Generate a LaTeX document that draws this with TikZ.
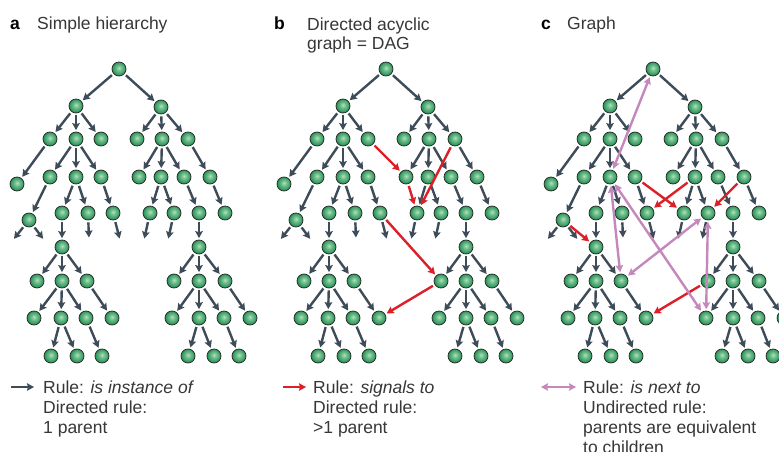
\documentclass[tikz,border=0pt]{standalone}
\usepackage{fontspec}
\setmainfont{Liberation Sans}
\usepackage{tikz}
\usetikzlibrary{arrows.meta}
\definecolor{slate}{RGB}{61,76,88}
\definecolor{signalred}{RGB}{220,32,40}
\definecolor{lilac}{RGB}{196,136,188}
\definecolor{textgrey}{RGB}{55,55,55}
\definecolor{ballhi}{RGB}{178,226,192}
\definecolor{ballmid}{RGB}{40,148,86}
\definecolor{balldark}{RGB}{10,92,48}
\pgfdeclareradialshading{greenball}{\pgfpoint{0bp}{4bp}}{color(0bp)=(ballhi); color(9bp)=(ballhi!55!ballmid); color(24bp)=(ballmid); color(40bp)=(balldark); color(50bp)=(balldark)}

\tikzset{
  >={Stealth[length=7pt,width=7.5pt,inset=1pt]},
  ball/.style={circle, minimum size=14pt, inner sep=0pt, draw=black!85, line width=0.7pt, shading=greenball},
  link/.style={line width=2.4pt, shorten <=2pt, shorten >=1.5pt},
  isa/.style={link, slate, ->},
  signal/.style={link, signalred, ->},
  nextto/.style={link, lilac, <->, shorten <=1.5pt},
  keyarrow/.style={shorten <=0pt, shorten >=0pt},
  % multi-line texts sit on the baseline of their last line
  title/.style={anchor=base west, inner sep=0pt, textgrey, align=left, font=\fontsize{17.5}{20}\selectfont},
  tag/.style={anchor=base west, inner sep=0pt, font=\fontsize{17.5}{20}\selectfont\bfseries},
}

% one hierarchy of balls with its instance-of links
\newcommand\hierarchy{%
  \foreach \n/\x/\y in {l0/119/69,
      l1a/76/106, l1b/161/107,
      l2a/50/139, l2b/76/139, l2c/101/139, l2d/137/139, l2e/162/139, l2f/188/139,
      l3a/17/184, l3b/50/177, l3c/76/177, l3d/101/177, l3e/139/177, l3f/161/177, l3g/184/177, l3h/210/177,
      l4a/29/220, l4b/62/213, l4c/88/213, l4d/113/213, l4e/150/213, l4f/174/213, l4g/199/213, l4h/225/213,
      l5a/62/247, l5b/199/247,
      l6a/37/281, l6b/62/281, l6c/87/281, l6d/174/281, l6e/199/281, l6f/225/281,
      l7a/34/318, l7b/61/318, l7c/86/318, l7d/112/318, l7e/172/318, l7f/199/318, l7g/224/318, l7h/250/318,
      l8a/51/356, l8b/77/356, l8c/102/356, l8d/188/356, l8e/214/356, l8f/239/356}
    \node[ball] (\n) at (\x,\y) {};
  % loose ends
  \foreach \n/\x/\y in {e1/13/240, e2/44/240, e3/89/239, e4/120/240, e5/144/240, e6/168/240}
    \coordinate (\n) at (\x,\y);
  \foreach \p/\c in {l0/l1a, l0/l1b,
      l1a/l2a, l1a/l2b, l1a/l2c, l1b/l2d, l1b/l2e, l1b/l2f,
      l2a/l3a, l2b/l3b, l2b/l3c, l2b/l3d, l2e/l3e, l2e/l3f, l2e/l3g, l2f/l3h,
      l3b/l4a, l3c/l4b, l3c/l4c, l3d/l4d, l3f/l4e, l3f/l4f, l3g/l4g, l3h/l4h,
      l4a/e1, l4a/e2, l4c/e3, l4d/e4, l4e/e5, l4f/e6,
      l4b/l5a, l4g/l5b,
      l5a/l6a, l5a/l6b, l5a/l6c, l5b/l6d, l5b/l6e, l5b/l6f,
      l6b/l7a, l6b/l7b, l6b/l7c, l6c/l7d, l6e/l7e, l6e/l7f, l6e/l7g, l6f/l7h,
      l7b/l8a, l7b/l8b, l7c/l8c, l7f/l8d, l7f/l8e, l7g/l8f}
    \draw[isa] (\p) -- (\c);
}

\begin{document}
\begin{tikzpicture}[x=1pt, y=-1pt]
  \fill[white] (0,0) rectangle (779,452);
  \useasboundingbox (0,0) rectangle (779,452);
  \clip (0,0) rectangle (779,452);

  % a: simple hierarchy
  \begin{scope}[name prefix=a-]
    \hierarchy
    \node[tag] (tag) at (10,30) {a};
    \node[title] (title) at (37,30) {Simple hierarchy};
    \coordinate (k1) at (11,387);
    \coordinate (k2) at (34,387);
    \draw[isa, keyarrow] (k1) -- (k2);
    \node[title] (key) at (43,433) {Rule: \textit{is instance of}\\Directed rule:\\1 parent};
  \end{scope}

  % b: directed acyclic graph
  \begin{scope}[xshift=267pt, name prefix=b-]
    \hierarchy
    \foreach \p/\c in {l2c/l3e, l3e/l4e, l2f/l4e, l4d/l6d, l6d/l7d}
      \draw[signal] (\p) -- (\c);
    \node[tag] (tag) at (7,30) {b};
    \node[title] (title) at (40,50) {Directed acyclic\\graph = DAG};
    \coordinate (k1) at (16,387);
    \coordinate (k2) at (39,387);
    \draw[signal, keyarrow] (k1) -- (k2);
    \node[title] (key) at (46,433) {Rule: \textit{signals to}\\Directed rule:\\>1 parent};
  \end{scope}

  % c: graph
  \begin{scope}[xshift=534pt, name prefix=c-]
    \hierarchy
    \foreach \p/\c in {l3d/l4e, l3f/l4d, l3h/l4f, l4a/l5a, l6d/l7d}
      \draw[signal] (\p) -- (\c);
    \foreach \p/\c in {l0/l3c, l3c/l6c, l3c/l7e, l6c/l4f, l4f/l7e}
      \draw[nextto] (\p) -- (\c);
    \node[tag] (tag) at (7,30) {c};
    \node[title] (title) at (33,30) {Graph};
    \coordinate (k1) at (7,387);
    \coordinate (k2) at (42,387);
    \draw[nextto, keyarrow] (k1) -- (k2);
    \node[title] (key) at (49,453) {Rule: \textit{is next to}\\Undirected rule:\\parents are equivalent\\to children};
  \end{scope}
\end{tikzpicture}
\end{document}
